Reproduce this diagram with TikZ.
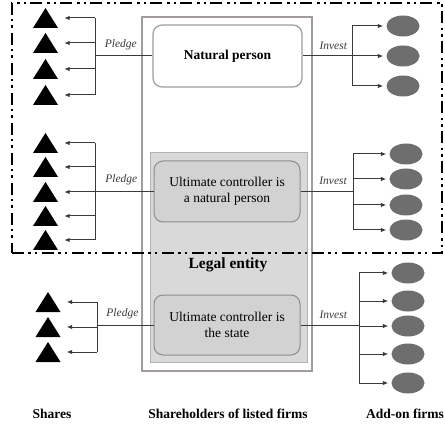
\documentclass[tikz,border=0pt]{standalone}
\usepackage{fontspec}
\setmainfont{Liberation Serif}
\usetikzlibrary{arrows.meta,shapes.geometric}
\definecolor{boxline}{HTML}{A39C9C}
\definecolor{grayfill}{HTML}{D9D9D9}
\definecolor{grayline}{HTML}{B4B0B0}
\definecolor{ucfill}{HTML}{D2D2D2}
\definecolor{ucline}{HTML}{8E8A8A}
\definecolor{firmfill}{HTML}{6E6E6E}
\definecolor{linkcol}{HTML}{3A3A3A}
\tikzset{
  boxtext/.style={font=\fontsize{13.5}{16}\selectfont, align=center},
  outerbox/.style={draw=boxline, line width=1.2pt, fill=white, inner sep=0},
  legalbox/.style={draw=grayline, line width=1pt, fill=grayfill, inner sep=0},
  npbox/.style={draw=boxline, line width=1.2pt, fill=white, rounded corners=9pt, boxtext, inner sep=0},
  ucbox/.style={draw=ucline, line width=1pt, fill=ucfill, rounded corners=9pt, boxtext, inner sep=0},
  share/.style={minimum width=25pt, minimum height=20pt, inner sep=0pt,
    path picture={\fill[black] (path picture bounding box.south west) -- (path picture bounding box.south east) -- (path picture bounding box.north) -- cycle;}},
  firm/.style={ellipse, fill=firmfill, minimum width=33pt, minimum height=21pt, inner sep=0pt},
  link/.style={draw=linkcol, line width=1pt},
  arr/.style={link, -{Latex[length=5.5pt,width=4.5pt]}},
  lab/.style={font=\itshape\fontsize{11.5}{13}\selectfont, text=linkcol, inner sep=0pt},
  caption/.style={font=\bfseries\fontsize{13.5}{16}\selectfont},
  regionbox/.style={draw=black, line width=2pt, inner sep=0pt,
    dash pattern=on 12pt off 4pt on 2.5pt off 4pt on 2.5pt off 5pt}
}
\begin{document}
\begin{tikzpicture}[x=1pt,y=-1pt]
\useasboundingbox (0,0) rectangle (445,425);

% centre column
\node[outerbox, minimum width=170pt, minimum height=354pt] (outer) at (227,194) {};
\node[legalbox, minimum width=157pt, minimum height=209pt] (legal) at (228.5,257.5) {};
\node[npbox, minimum width=149pt, minimum height=62pt] (np) at (227.5,56) {\bfseries Natural person};
\node[ucbox, minimum width=146pt, minimum height=61pt] (uc1) at (227,191.5) {Ultimate controller is\\a natural person};
\node[ucbox, minimum width=146pt, minimum height=60pt] (uc2) at (227,325) {Ultimate controller is\\the state};
\node[font=\bfseries\fontsize{15.5}{18}\selectfont] (le) at (228,265) {Legal entity};

% shares
\node[share] (s11) at (45.5,18) {};
\node[share] (s12) at (45.5,43) {};
\node[share] (s13) at (45.5,69) {};
\node[share] (s14) at (45.5,95) {};
\node[share] (s21) at (45.5,143) {};
\node[share] (s22) at (45.5,167) {};
\node[share] (s23) at (45.5,192) {};
\node[share] (s24) at (45.5,216) {};
\node[share] (s25) at (45.5,240) {};
\node[share] (s31) at (48,302) {};
\node[share] (s32) at (48,327) {};
\node[share] (s33) at (48,352) {};

% add-on firms
\node[firm] (f11) at (403,26) {};
\node[firm] (f12) at (403,56) {};
\node[firm] (f13) at (403,86) {};
\node[firm] (f21) at (406,154) {};
\node[firm] (f22) at (406,179) {};
\node[firm] (f23) at (406,205) {};
\node[firm] (f24) at (406,230) {};
\node[firm] (f31) at (408,273) {};
\node[firm] (f32) at (408,301) {};
\node[firm] (f33) at (408,326) {};
\node[firm] (f34) at (408,354) {};
\node[firm] (f35) at (408,383) {};

% bus positions
\coordinate (bl1) at (95,0);
\coordinate (bl2) at (95,0);
\coordinate (bl3) at (97,0);
\coordinate (br1) at (352,0);
\coordinate (br2) at (353,0);
\coordinate (br3) at (359,0);

% pledge connectors
\draw[link] (np.west) -- node[pos=0.55, above=6pt, lab] {Pledge} (np.west -| bl1);
\draw[link] (s11.east -| bl1) -- (s14.east -| bl1);
\foreach \i in {1,...,4} \draw[arr, shorten >=6pt] (s1\i.east -| bl1) -- (s1\i.east);

\draw[link] (uc1.west) -- node[pos=0.55, above=6pt, lab] {Pledge} (uc1.west -| bl2);
\draw[link] (s21.east -| bl2) -- (s25.east -| bl2);
\foreach \i in {1,...,5} \draw[arr, shorten >=6pt] (s2\i.east -| bl2) -- (s2\i.east);

\draw[link] (uc2.west) -- node[pos=0.55, above=6pt, lab] {Pledge} (uc2.west -| bl3);
\draw[link] (s31.east -| bl3) -- (s33.east -| bl3);
\foreach \i in {1,...,3} \draw[arr, shorten >=6pt] (s3\i.east -| bl3) -- (s3\i.east);

% invest connectors
\draw[link] (np.east) -- node[pos=0.62, above=6pt, lab] {Invest} (np.east -| br1);
\draw[link] (f11.west -| br1) -- (f13.west -| br1);
\foreach \i in {1,...,3} \draw[arr, shorten >=3pt] (f1\i.west -| br1) -- (f1\i.west);

\draw[link] (uc1.east) -- node[pos=0.62, above=6pt, lab] {Invest} (uc1.east -| br2);
\draw[link] (f21.west -| br2) -- (f24.west -| br2);
\foreach \i in {1,...,4} \draw[arr, shorten >=3pt] (f2\i.west -| br2) -- (f2\i.west);

\draw[link] (uc2.east) -- node[pos=0.56, above=6pt, lab] {Invest} (uc2.east -| br3);
\draw[link] (f31.west -| br3) -- (f35.west -| br3);
\foreach \i in {1,...,5} \draw[arr, shorten >=3pt] (f3\i.west -| br3) -- (f3\i.west);

% natural-person region
\node[regionbox, minimum width=430pt, minimum height=250pt] (region) at (227,128) {};

% captions
\node[caption] (capS) at (52,414) {Shares};
\node[caption] (capH) at (228,414) {Shareholders of listed firms};
\node[caption] (capF) at (405,414) {Add-on firms};
\end{tikzpicture}
\end{document}
